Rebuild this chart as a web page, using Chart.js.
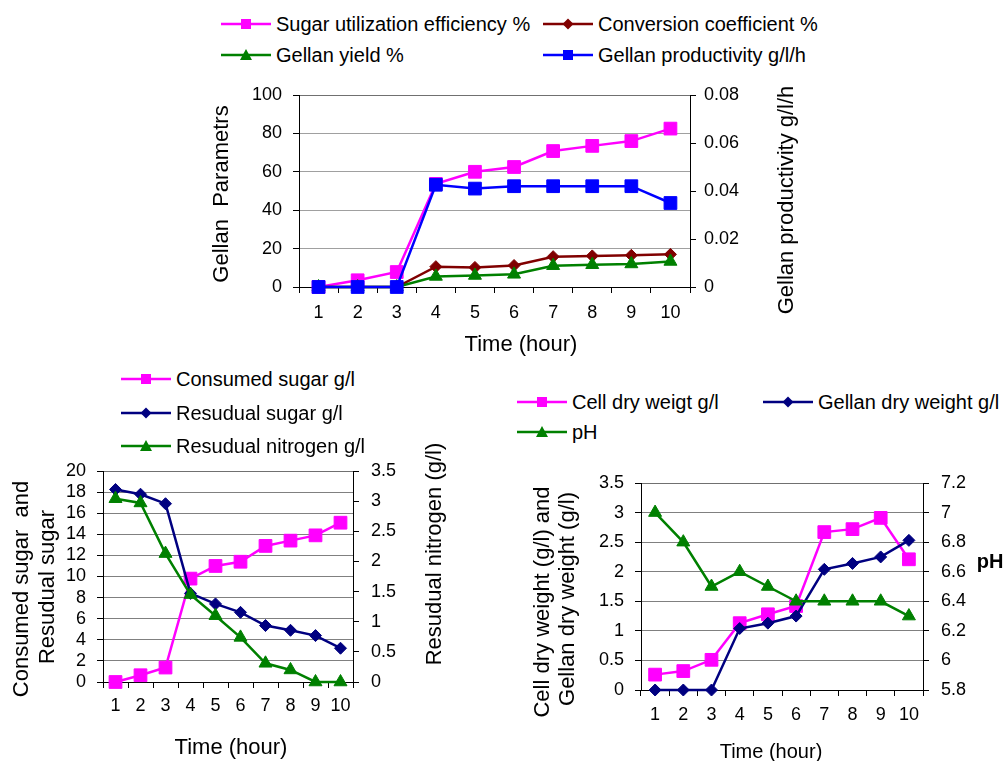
<!DOCTYPE html>
<html><head><meta charset="utf-8">
<script src="https://cdn.jsdelivr.net/npm/chart.js@4.4.0/dist/chart.umd.min.js"></script>
<style>
body{margin:0;background:#fff;font-family:"Liberation Sans",Arial,sans-serif;}
#page{position:relative;width:1005px;height:761px;overflow:hidden;background:#fff}
.cv{position:absolute}
.lg{position:absolute;height:24px;display:flex;align-items:center;font-size:20px;color:#000;white-space:nowrap;line-height:1}
.lg svg{margin-right:5px;flex:none}
</style></head><body><div id="page">
<canvas id="c1" class="cv" width="600" height="285" style="left:200px;top:80px"></canvas>
<canvas id="c2" class="cv" width="470" height="331" style="left:0px;top:430px"></canvas>
<canvas id="c3" class="cv" width="485" height="296" style="left:520px;top:465px"></canvas>
</div>
<script>
// ---------- data ----------
const hours = ['1','2','3','4','5','6','7','8','9','10'];

// top chart
const sugarUtilization = [0, 3.5, 7.8, 53.7, 60, 62.5, 70.8, 73.5, 76, 82.5];
const conversionCoefficient = [0, 0, 0, 10.6, 10.2, 11.2, 15.8, 16.2, 16.5, 17];
const gellanYield = [0, 0, 0, 5.5, 6, 6.6, 11.1, 11.6, 12, 13.3];
const gellanProductivity = [0, 0, 0, 0.0426, 0.041, 0.042, 0.042, 0.042, 0.042, 0.035];
const paramTicks = [0, 20, 40, 60, 80, 100];
const productivityTicks = [0, 0.02, 0.04, 0.06, 0.08];

// bottom-left chart
const consumedSugar = [0, 0.64, 1.37, 9.8, 11, 11.4, 12.9, 13.4, 13.9, 15.1];
const residualSugar = [18.25, 17.8, 16.9, 8.4, 7.4, 6.6, 5.35, 4.9, 4.4, 3.2];
const residualNitrogen = [3.04, 2.97, 2.13, 1.45, 1.1, 0.74, 0.31, 0.2, 0, 0];
const sugarTicks = [0, 2, 4, 6, 8, 10, 12, 14, 16, 18, 20];
const nitrogenTicks = [0, 0.5, 1, 1.5, 2, 2.5, 3, 3.5];

// bottom-right chart
const cellDryWeight = [0.26, 0.32, 0.51, 1.13, 1.28, 1.42, 2.67, 2.72, 2.91, 2.21];
const gellanDryWeight = [0, 0, 0, 1.04, 1.13, 1.25, 2.04, 2.14, 2.25, 2.53];
const phValues = [7.0, 6.8, 6.5, 6.6, 6.5, 6.4, 6.4, 6.4, 6.4, 6.3];
const weightTicks = [0, 0.5, 1, 1.5, 2, 2.5, 3, 3.5];
const phTicks = [5.8, 6, 6.2, 6.4, 6.6, 6.8, 7, 7.2];

// ---------- styles ----------
const MAGENTA = '#FF00FF', DARKRED = '#800000', GREEN = '#008000', BLUE = '#0000FF', NAVY = '#000080';
const FAMILY = "'Liberation Sans', Arial, sans-serif";
Chart.defaults.font.family = FAMILY;
Chart.defaults.color = '#000';

const shapeRadius = {rect: 9, rectRot: 6, triangle: 7.5};

function ds(label, data, color, shape, axis, order) {
  return {
    label, data, yAxisID: axis, order,
    borderColor: color, backgroundColor: color,
    borderWidth: 2.5, pointStyle: shape,
    pointRadius: shapeRadius[shape], pointHoverRadius: shapeRadius[shape],
    pointBorderWidth: 1, pointBorderColor: color, pointBackgroundColor: color,
    tension: 0, clip: false
  };
}

const fmt = v => String(Number(Number(v).toFixed(3)));

function yScale(pos, ticksArr, width, pad, gridColor, onArea) {
  return {
    type: 'linear', position: pos,
    min: ticksArr[0], max: ticksArr[ticksArr.length - 1],
    afterBuildTicks: s => { s.ticks = ticksArr.map(v => ({value: v})); },
    afterFit: s => { s.width = width; s.paddingTop = 0; s.paddingBottom = 0; },
    ticks: {font: {size: 18}, padding: pad, callback: fmt, autoSkip: false},
    grid: {
      drawOnChartArea: onArea, tickLength: 6, tickColor: '#000', lineWidth: 1,
      color: c => (c.tick && c.tick.value === ticksArr[ticksArr.length - 1]) ? '#707070' : gridColor
    },
    border: {display: true, color: '#000', width: 1}
  };
}

function xScale(height, pad) {
  return {
    type: 'category', offset: true,
    afterFit: s => { s.height = height; s.paddingLeft = 0; s.paddingRight = 0; },
    ticks: {font: {size: 18}, padding: pad, maxRotation: 0, autoSkip: false},
    grid: {offset: true, drawOnChartArea: false, tickLength: 6, tickColor: '#000', color: '#000'},
    border: {display: true, color: '#000', width: 1}
  };
}

const titlesPlugin = {
  id: 'axisTitles',
  afterDraw(chart, args, opts) {
    const ctx = chart.ctx;
    (opts.items || []).forEach(it => {
      ctx.save();
      ctx.font = (it.bold ? 'bold ' : '') + it.size + 'px ' + FAMILY;
      ctx.fillStyle = '#000';
      ctx.textAlign = 'center';
      ctx.textBaseline = 'middle';
      ctx.translate(it.x, it.y);
      if (it.rotate) ctx.rotate(-Math.PI / 2);
      ctx.fillText(it.text, 0, 0);
      ctx.restore();
    });
  }
};

function baseOptions(padTop, scales, titles) {
  return {
    responsive: false, animation: false, devicePixelRatio: 1,
    layout: {padding: {top: padTop, left: 0, right: 0, bottom: 0}},
    plugins: {legend: {display: false}, tooltip: {enabled: false}, axisTitles: {items: titles}},
    scales
  };
}

// ---------- chart 1 ----------
new Chart(document.getElementById('c1'), {
  type: 'line',
  data: {
    labels: hours,
    datasets: [
      ds('Sugar utilization efficiency %', sugarUtilization, MAGENTA, 'rect', 'y', 4),
      ds('Conversion coefficient %', conversionCoefficient, DARKRED, 'rectRot', 'y', 3),
      ds('Gellan yield %', gellanYield, GREEN, 'triangle', 'y', 2),
      ds('Gellan productivity g/l/h', gellanProductivity, BLUE, 'rect', 'y2', 1)
    ]
  },
  options: baseOptions(15, {
    x: xScale(78, 9),
    y: yScale('left', paramTicks, 99, 11, '#a0a0a0', true),
    y2: yScale('right', productivityTicks, 110, 8, '#a0a0a0', false)
  }, [
    {text: 'Gellan  Parametrs', x: 22, y: 114, size: 22, rotate: true},
    {text: 'Gellan productivity g/l/h', x: 587, y: 120, size: 22, rotate: true},
    {text: 'Time (hour)', x: 321, y: 265, size: 22}
  ]),
  plugins: [titlesPlugin]
});

// ---------- chart 2 ----------
new Chart(document.getElementById('c2'), {
  type: 'line',
  data: {
    labels: hours,
    datasets: [
      ds('Consumed sugar g/l', consumedSugar, MAGENTA, 'rect', 'y', 3),
      ds('Resudual sugar g/l', residualSugar, NAVY, 'rectRot', 'y', 2),
      ds('Resudual nitrogen g/l', residualNitrogen, GREEN, 'triangle', 'y2', 1)
    ]
  },
  options: baseOptions(41, {
    x: xScale(79, 7),
    y: yScale('left', sugarTicks, 103, 11, '#808080', true),
    y2: yScale('right', nitrogenTicks, 117, 12, '#808080', false)
  }, [
    {text: 'Consumed sugar  and', x: 22, y: 159, size: 22, rotate: true},
    {text: 'Resudual sugar', x: 48, y: 157, size: 22, rotate: true},
    {text: 'Resudual nitrogen (g/l)', x: 435, y: 124, size: 22, rotate: true},
    {text: 'Time (hour)', x: 231, y: 318, size: 22}
  ]),
  plugins: [titlesPlugin]
});

// ---------- chart 3 ----------
new Chart(document.getElementById('c3'), {
  type: 'line',
  data: {
    labels: hours,
    datasets: [
      ds('Cell dry weigt g/l', cellDryWeight, MAGENTA, 'rect', 'y', 3),
      ds('Gellan dry weight g/l', gellanDryWeight, NAVY, 'rectRot', 'y', 2),
      ds('pH', phValues, GREEN, 'triangle', 'y2', 1)
    ]
  },
  options: baseOptions(18, {
    x: xScale(71, 8),
    y: yScale('left', weightTicks, 121, 11, '#808080', true),
    y2: yScale('right', phTicks, 82, 12, '#808080', false)
  }, [
    {text: 'Cell dry weight (g/l) and', x: 23, y: 137, size: 22, rotate: true},
    {text: 'Gellan dry weight (g/l)', x: 48, y: 134, size: 22, rotate: true},
    {text: 'pH', x: 470, y: 97, size: 20, bold: true},
    {text: 'Time (hour)', x: 251, y: 287, size: 20}
  ]),
  plugins: [titlesPlugin]
});

// ---------- legends (HTML) ----------
function markerSvg(color, shape) {
  let m;
  if (shape === 'rect') m = `<rect x="20" y="5" width="10" height="10" fill="${color}"/>`;
  else if (shape === 'rectRot') m = `<polygon points="25,4.5 30.5,10 25,15.5 19.5,10" fill="${color}"/>`;
  else m = `<polygon points="25,4 31,15 19,15" fill="${color}"/>`;
  return `<svg width="50" height="20" viewBox="0 0 50 20"><line x1="0" y1="10" x2="50" y2="10" stroke="${color}" stroke-width="2.5"/>${m}</svg>`;
}
const legendItems = [
  {x: 221, y: 24, label: 'Sugar utilization efficiency %', color: MAGENTA, shape: 'rect'},
  {x: 543, y: 24, label: 'Conversion coefficient %', color: DARKRED, shape: 'rectRot'},
  {x: 221, y: 55, label: 'Gellan yield %', color: GREEN, shape: 'triangle'},
  {x: 543, y: 55, label: 'Gellan productivity g/l/h', color: BLUE, shape: 'rect'},
  {x: 121, y: 379, label: 'Consumed sugar g/l', color: MAGENTA, shape: 'rect'},
  {x: 121, y: 413, label: 'Resudual sugar g/l', color: NAVY, shape: 'rectRot'},
  {x: 121, y: 446, label: 'Resudual nitrogen g/l', color: GREEN, shape: 'triangle'},
  {x: 517, y: 402, label: 'Cell dry weigt g/l', color: MAGENTA, shape: 'rect'},
  {x: 763, y: 402, label: 'Gellan dry weight g/l', color: NAVY, shape: 'rectRot'},
  {x: 517, y: 432, label: 'pH', color: GREEN, shape: 'triangle'}
];
const page = document.getElementById('page');
legendItems.forEach(it => {
  const d = document.createElement('div');
  d.className = 'lg';
  d.style.left = it.x + 'px';
  d.style.top = (it.y - 12) + 'px';
  d.innerHTML = markerSvg(it.color, it.shape) + '<span>' + it.label + '</span>';
  page.appendChild(d);
});
</script>
</body></html>
